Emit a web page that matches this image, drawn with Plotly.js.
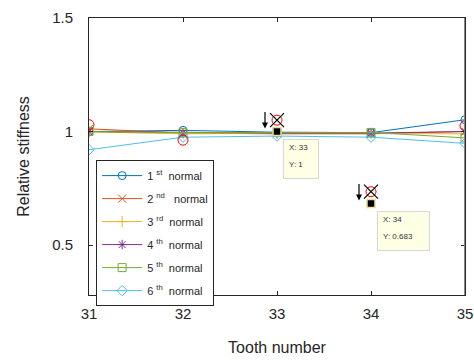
<!DOCTYPE html>
<html>
<head>
<meta charset="utf-8">
<script src="https://cdn.plot.ly/plotly-3.0.1.min.js"></script>
<style>html,body{margin:0;padding:0;background:#fff;}#chart{width:474px;height:360px;}</style>
</head>
<body>
<div id="chart"></div>
<script>
const teeth = [31, 32, 33, 34, 35];
const seriesNames = ["1 <sup>st</sup>  normal", "2 <sup>nd</sup>   normal", "3 <sup>rd</sup>  normal", "4 <sup>th</sup>  normal", "5 <sup>th</sup>  normal", "6 <sup>th</sup>  normal"];
const normal1 = [1.0, 1.005, 0.997, 0.995, 1.052];
const normal2 = [1.012, 0.993, 0.99, 0.99, 1.0];
const normal3 = [0.998, 0.99, 0.992, 0.992, 0.99];
const normal4 = [1.0, 0.995, 0.993, 0.993, 1.0];
const normal5 = [1.0, 0.995, 0.996, 0.996, 0.972];
const normal6 = [0.92, 0.975, 0.98, 0.975, 0.948];
const faultX = [31, 32, 33, 34, 35];
const faultY = [1.03, 0.962, 1.05, 0.735, 1.025];
const crossX = [33, 34];
const crossY = [1.05, 0.735];
const tipX = [33, 34];
const tipY = [1, 0.683];
const tipXLabels = ["X: 33", "X: 34"];
const tipYLabels = ["Y: 1", "Y: 0.683"];

const colors = ["#0072BD", "#D95319", "#EDB120", "#7E2F8E", "#77AC30", "#4DBEEE"];
const symbols = ["circle-open", "x-thin-open", "cross-thin-open", "asterisk-open", "square-open", "diamond-open"];
const allSeries = [normal1, normal2, normal3, normal4, normal5, normal6];

const traces = allSeries.map((ys, i) => ({
  x: teeth, y: ys, name: seriesNames[i], type: "scatter", mode: "lines+markers",
  legendgroup: "g" + i,
  line: {color: colors[i], width: 1},
  marker: {symbol: symbols[i], size: 8, color: colors[i], line: {color: colors[i], width: 1}}
}));
traces.push({x: faultX, y: faultY, type: "scatter", mode: "markers", showlegend: false,
  marker: {symbol: "circle-open", size: 10, color: "#FF0000", line: {color: "#FF0000", width: 1}}});
traces.push({x: crossX, y: crossY, type: "scatter", mode: "markers", showlegend: false,
  marker: {symbol: "x-thin-open", size: 14, color: "#000", line: {color: "#000", width: 1.2}}});
traces.push({x: tipX, y: tipY, type: "scatter", mode: "markers", showlegend: false,
  marker: {symbol: "square", size: 8, color: "#000", line: {color: "#E8E0A0", width: 1.5}}});

const boxWidths = [34, 51];
const tipFont = {family: "Liberation Sans, Arial, sans-serif", size: 8, color: "#333"};
const annotations = [];
tipX.forEach((x, i) => {
  annotations.push({x: x, y: tipY[i], xref: "x", yref: "y", text: "", showarrow: false,
    xanchor: "left", yanchor: "top", xshift: 6, yshift: -7, width: boxWidths[i], height: 38,
    bgcolor: "#FFFFE6", bordercolor: "#D8D8D0", borderwidth: 1, borderpad: 0});
  annotations.push({x: x, y: tipY[i], xref: "x", yref: "y", text: tipXLabels[i], showarrow: false,
    xanchor: "left", yanchor: "middle", xshift: 10, yshift: -16, font: tipFont});
  annotations.push({x: x, y: tipY[i], xref: "x", yref: "y", text: tipYLabels[i], showarrow: false,
    xanchor: "left", yanchor: "middle", xshift: 10, yshift: -33, font: tipFont});
  annotations.push({x: x, y: tipY[i], xref: "x", yref: "y", text: "", showarrow: true,
    arrowhead: 2, arrowsize: 1, arrowwidth: 1.2, arrowcolor: "#000",
    ax: 0, ay: -18, xshift: -12, yshift: 3});
});

const layout = {
  width: 474, height: 360,
  margin: {l: 89, r: 9, t: 18, b: 65},
  paper_bgcolor: "#fff", plot_bgcolor: "#fff",
  font: {family: "Liberation Sans, Arial, sans-serif", color: "#262626"},
  xaxis: {
    range: [31, 35], tickvals: teeth, ticktext: teeth.map(String),
    ticks: "inside", ticklen: 4, tickcolor: "#262626", showline: true, linecolor: "#262626", linewidth: 1,
    mirror: "ticks", showgrid: false, zeroline: false, ticklabelstandoff: 5,
    tickfont: {size: 15, color: "#262626"},
    title: {text: "Tooth number", font: {size: 16, color: "#262626"}, standoff: 20}
  },
  yaxis: {
    range: [0.28, 1.5], tickvals: [0.5, 1, 1.5], ticktext: ["0.5", "1", "1.5"],
    ticks: "inside", ticklen: 4, tickcolor: "#262626", showline: true, linecolor: "#262626", linewidth: 1,
    mirror: "ticks", showgrid: false, zeroline: false, ticklabelstandoff: 12,
    tickfont: {size: 15, color: "#262626"},
    title: {text: "Relative stiffness", font: {size: 16, color: "#262626"}, standoff: 18}
  },
  showlegend: true,
  legend: {
    x: 0.019, y: 0.487, xanchor: "left", yanchor: "top",
    bgcolor: "#fff", bordercolor: "#262626", borderwidth: 1,
    font: {size: 11, color: "#262626"}, traceorder: "grouped", tracegroupgap: 4,
    itemwidth: 40
  },
  shapes: [{type: "line", xref: "x", yref: "paper", x0: 35, x1: 35, y0: 0, y1: 1,
    line: {color: "#8A8A8A", width: 2}}],
  annotations: annotations
};

Plotly.newPlot("chart", traces, layout, {displayModeBar: false, staticPlot: true});
</script>
</body>
</html>
